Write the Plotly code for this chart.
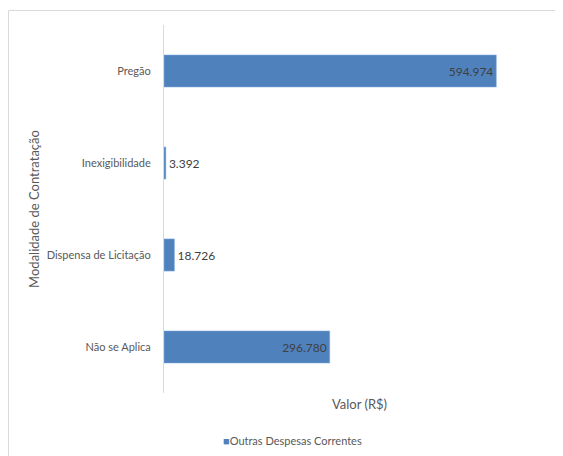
import plotly.graph_objects as go

categories = ["Não se Aplica", "Dispensa de Licitação", "Inexigibilidade", "Pregão"]
values = [296.780, 18.726, 3.392, 594.974]
labels = ["296.780", "18.726", "3.392", "594.974"]
series_name = "Outras Despesas Correntes"

W, H = 563, 456
OFF = 8  # page body margin in the screenshot
L, R, T, B = 164 - OFF, 16, 25 - OFF, 71
pw, ph = W - L - R, H - T - B

def px_x(p):
    return (p - OFF - L) / pw

def px_y(p):
    return (H - B - (p - OFF)) / ph

fig = go.Figure()
fig.add_trace(go.Bar(
    y=categories, x=values, orientation="h", name=series_name,
    marker=dict(color="#4f81bd", line=dict(color="#8eb4e3", width=0.5)),
    width=0.35,
    text=labels,
    textposition=["inside", "outside", "outside", "inside"],
    insidetextanchor="end",
    textfont=dict(family="Lato, Open Sans, sans-serif", size=12, color="#404040"),
    cliponaxis=False,
    showlegend=False,
))

fig.update_layout(
    width=W, height=H,
    margin=dict(l=L, r=R, t=T, b=B, autoexpand=False),
    paper_bgcolor="white", plot_bgcolor="white",
    font=dict(family="Lato, Open Sans, sans-serif", size=11, color="#595959"),
    xaxis=dict(range=[0, 700], showticklabels=False, showgrid=False, zeroline=False,
               showline=False, ticks="", automargin=False,
               title=dict(text="Valor (R$)", font=dict(size=13, color="#595959"), standoff=6)),
    yaxis=dict(showgrid=False, zeroline=False, showline=True, linecolor="#d9d9d9", linewidth=1,
               ticks="", ticklabelstandoff=10, automargin=False,
               tickfont=dict(size=11, color="#595959"),
               title=dict(text="Modalidade de Contratação", font=dict(size=13, color="#595959"), standoff=4)),
    annotations=[dict(xref="paper", yref="paper", x=px_x(292), y=px_y(440),
                      xanchor="center", yanchor="middle", showarrow=False,
                      text="<span style='color:#4f81bd'>■</span>" + series_name,
                      font=dict(size=11, color="#595959"))],
    shapes=[dict(type="rect", xref="paper", yref="paper",
                 x0=px_x(8.5), x1=px_x(620), y0=px_y(500), y1=px_y(10.5),
                 line=dict(color="#d9d9d9", width=1), fillcolor="rgba(0,0,0,0)", layer="below")],
)

fig.write_html("out.html")
